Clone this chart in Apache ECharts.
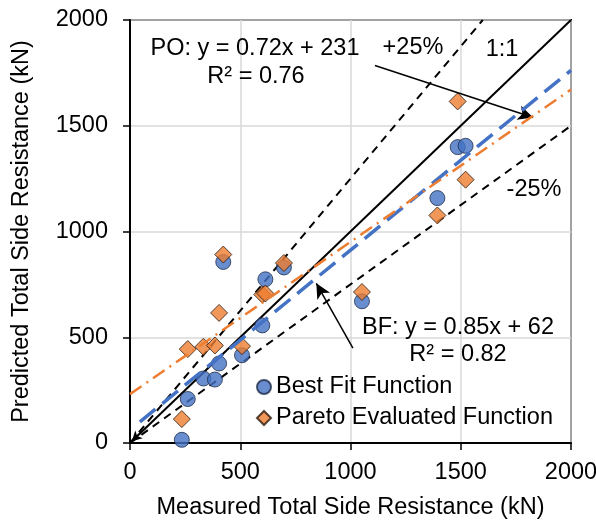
<!DOCTYPE html>
<html><head><meta charset="utf-8">
<script src="https://cdn.jsdelivr.net/npm/echarts@6/dist/echarts.min.js"></script>
<style>html,body{margin:0;padding:0;background:#fff}#c{width:596px;height:521px}</style>
</head><body><div id="c"></div>
<script>
const measured = [235, 262, 333, 385, 404, 423, 508, 600, 614, 698, 1052, 1394, 1486, 1522];
const bestFit = [15, 208, 305, 300, 376, 856, 415, 556, 774, 830, 670, 1158, 1399, 1405];
const pareto = [113, 444, 455, 461, 615, 891, 458, 702, 707, 851, 714, 1076, 1615, 1245];
const oneToOne = [[0, 0], [2000, 2000]];
const plus25 = [[0, 0], [1600, 2000]];
const minus25 = [[0, 0], [2000, 1500]];
const bfTrend = [[45, 100], [2000, 1762]];
const poTrend = [[0, 231], [2000, 1671]];
const poArrow = [[1111, 1785], [1828, 1539]];
const bfArrow = [[1011, 449], [845, 755]];
const originArrow = [[80, 80], [8, 8]];
const ticks = [0, 500, 1000, 1500, 2000];

const FONT = '"Liberation Sans", Arial, sans-serif';
const FS = 23.5;
const chart = echarts.init(document.getElementById('c'), null, {renderer: 'canvas'});
const pts = a => measured.map((x, i) => [x, a[i]]);
const lineS = (data, color, width, type, z) => ({
  type: 'line', data, symbol: 'none', silent: true, z,
  lineStyle: {color, width, type}, animation: false
});
const arrowS = (pair, size, z) => ({
  type: 'line', data: [], silent: true, z: z || 6, animation: false,
  markLine: {
    silent: true, animation: false, symbol: ['none', 'arrow'], symbolSize: size || [11, 15],
    lineStyle: {color: '#000', width: 1.5, type: 'solid'}, label: {show: false},
    data: [[{coord: pair[0]}, {coord: pair[1]}]]
  }
});
const T = (text, x, y, align) => ({
  type: 'text', x, y, z: 50,
  style: {text, fontSize: FS, fontFamily: FONT, fill: '#000', align: align || 'center', verticalAlign: 'middle'}
});
const axisCommon = {
  type: 'value', min: ticks[0], max: ticks[ticks.length - 1], interval: ticks[1] - ticks[0],
  axisLine: {show: true, lineStyle: {color: '#000', width: 2}},
  axisTick: {show: true, inside: false, length: 7, lineStyle: {color: '#000', width: 1.5}},
  splitLine: {show: true, lineStyle: {color: '#d9d9d9', width: 1.5}},
  nameLocation: 'middle',
  nameTextStyle: {color: '#000', fontSize: FS, fontFamily: FONT}
};

chart.setOption({
  animation: false,
  grid: {left: 130, right: 25, top: 20, bottom: 78, containLabel: false, outerBoundsMode: 'none',
    show: true, borderColor: '#000', borderWidth: 2, backgroundColor: 'transparent'},
  xAxis: Object.assign({}, axisCommon, {
    name: 'Measured Total Side Resistance (kN)', nameGap: 53,
    axisLabel: {color: '#000', fontSize: FS, fontFamily: FONT, margin: 18, formatter: v => String(v)}
  }),
  yAxis: Object.assign({}, axisCommon, {
    name: 'Predicted Total Side Resistance (kN)', nameGap: 96,
    axisLabel: {color: '#000', fontSize: FS, fontFamily: FONT, margin: 22, formatter: v => String(v)}
  }),
  legend: {
    orient: 'vertical', left: 256, top: 375, itemGap: 7, itemWidth: 14, itemHeight: 14, padding: 0,
    textStyle: {color: '#000', fontSize: FS, fontFamily: FONT, lineHeight: 24},
    data: ['Best Fit Function', 'Pareto Evaluated Function']
  },
  series: [
    lineS(oneToOne, '#000', 2, 'solid', 3),
    lineS(plus25, '#000', 2, [8, 6], 3),
    lineS(minus25, '#000', 2, [8, 6], 3),
    {
      name: 'Best Fit Function', type: 'scatter', data: pts(bestFit), symbol: 'circle', symbolSize: 15, z: 4,
      itemStyle: {color: '#4472C4', borderColor: '#1f2d4a', borderWidth: 1}
    },
    {
      name: 'Pareto Evaluated Function', type: 'scatter', data: pts(pareto), symbol: 'diamond', symbolSize: 17, z: 4,
      itemStyle: {color: '#ED7D31', borderColor: '#2b1a0e', borderWidth: 1}
    },
    lineS(bfTrend, '#4472C4', 3.5, [20, 9], 5),
    lineS(poTrend, '#ED7D31', 2.5, [14, 6, 2, 6], 5),
    arrowS(poArrow),
    arrowS(bfArrow),
    arrowS(originArrow, [8, 10])
  ],
  graphic: [
    T('PO: y = 0.72x + 231', 255, 49),
    T('R² = 0.76', 256, 77),
    T('+25%', 413, 48),
    T('1:1', 502, 50),
    T('-25%', 534, 190),
    T('BF: y = 0.85x + 62', 458, 328),
    T('R² = 0.82', 458, 355)
  ]
});
</script></body></html>
